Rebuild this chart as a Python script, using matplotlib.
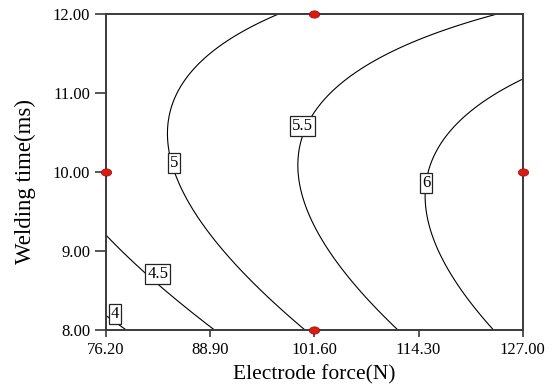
import numpy as np
import matplotlib
matplotlib.use("Agg")
import matplotlib.pyplot as plt
from matplotlib.path import Path

# ---- data ----
x_ticks = [76.20, 88.90, 101.60, 114.30, 127.00]
y_ticks = [8.00, 9.00, 10.00, 11.00, 12.00]
x_label = "Electrode force(N)"
y_label = "Welding time(ms)"
# quadratic response-surface model in coded units (A: force, B: time)
force_center, force_half = 101.6, 25.4
time_center, time_half = 10.0, 2.0
model_terms = ["const", "A", "B", "AB", "A2", "B2"]
model_coef = [5.564, 0.8171, 0.0180, -0.3161, -0.0346, -0.4950]
levels = [4.0, 4.5, 5.0, 5.5, 6.0]
level_labels = ["4", "4.5", "5", "5.5", "6"]
label_force = [77.3, 82.5, 84.49, 100.13, 115.21]
label_time = [8.2, 8.71, 10.11, 10.58, 9.86]
design_force = [76.2, 101.6, 127.0, 101.6]
design_time = [10.0, 12.0, 10.0, 8.0]

plt.rcParams['font.family'] = ['Liberation Serif', 'DejaVu Serif']

fig = plt.figure(figsize=(5.54, 3.92), dpi=100)
ax = fig.add_axes([106/554, 1-330/392, (522.7-106)/554, (330-14)/392])

F = np.linspace(x_ticks[0], x_ticks[-1], 400)
T = np.linspace(y_ticks[0], y_ticks[-1], 400)
FF, TT = np.meshgrid(F, T)
A = (FF - force_center) / force_half
B = (TT - time_center) / time_half
c = dict(zip(model_terms, model_coef))
Z = c["const"] + c["A"]*A + c["B"]*B + c["AB"]*A*B + c["A2"]*A*A + c["B2"]*B*B

ax.contour(FF, TT, Z, levels=levels, colors='black', linewidths=0.8)

for lab, fx, ty in zip(level_labels, label_force, label_time):
    ax.text(fx, ty, lab, ha='center', va='center', fontsize=12, zorder=5,
            bbox=dict(boxstyle='square,pad=0.12', fc='white', ec='#222222', lw=0.9))

theta = np.linspace(0, 2*np.pi, 40)
ell = Path(np.column_stack([np.cos(theta), 0.7*np.sin(theta)]), closed=True)
ax.plot(design_force, design_time, linestyle='none', marker=ell, markersize=7.5,
        markerfacecolor='#dd1a12', markeredgecolor='#8a1010', markeredgewidth=0.5,
        clip_on=False, zorder=10)

ax.set_xlim(x_ticks[0], x_ticks[-1])
ax.set_ylim(y_ticks[0], y_ticks[-1])
ax.set_xticks(x_ticks)
ax.set_yticks(y_ticks)
ax.set_xticklabels([f"{v:.2f}" for v in x_ticks])
ax.set_yticklabels([f"{v:.2f}" for v in y_ticks])
for s in ax.spines.values():
    s.set_color('#3a3a3a')
    s.set_linewidth(1.4)
ax.tick_params(axis='x', direction='out', length=5, width=1.2, color='#3a3a3a',
               labelsize=12, pad=3.5)
ax.tick_params(axis='y', direction='out', length=8, width=1.2, color='#3a3a3a',
               labelsize=12, pad=3.5)
ax.set_xlabel(x_label, fontsize=15.5)
ax.set_ylabel(y_label, fontsize=16.5)
ax.xaxis.set_label_coords(0.5, -0.112)
ax.yaxis.set_label_coords(-0.168, 0.47)

fig.savefig("out.png", dpi=100)
